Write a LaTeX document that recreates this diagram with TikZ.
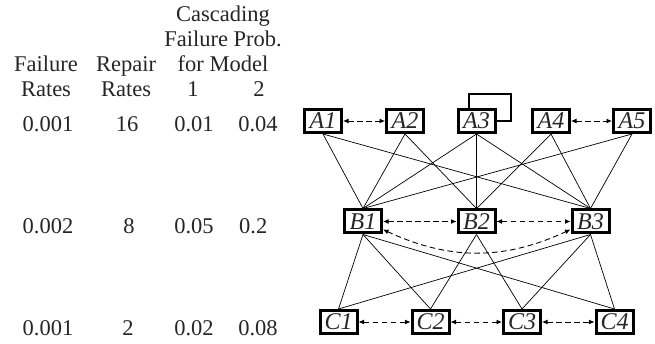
\documentclass[tikz,border=0pt]{standalone}
\usepackage{fontspec}
\setmainfont{Liberation Serif}
\usetikzlibrary{arrows.meta}
\begin{document}
\begin{tikzpicture}[x=1pt,y=-1pt,
  every node/.style={font=\fontsize{22.5}{25.2}\selectfont, inner sep=0pt, text=black!85},
  unit/.style={draw=black, line width=3pt, minimum width=37pt, minimum height=23pt,
    font=\fontsize{24}{26}\selectfont\itshape, fill=white},
  cell/.style={anchor=base},
  link/.style={line width=0.7pt},
  dep/.style={line width=0.9pt, dash pattern=on 5.5pt off 3.5pt,
    {Latex[length=5.5pt,width=5pt]}-{Latex[length=5.5pt,width=5pt]}}]
\useasboundingbox (0,0) rectangle (655,344);

% table of rates (multi-line cells sit on the baseline of their last line)
\node[cell, align=center] (hfail) at (46,97) {Failure\\Rates};
\node[cell, align=center] (hrep) at (126,97) {Repair\\Rates};
\node[cell, align=center] (hcasc) at (223,72) {Cascading\\Failure Prob.\\for Model};
\node[cell] (hm1) at (193,97) {1};
\node[cell] (hm2) at (259,97) {2};

\node[cell] (f1) at (48,132) {0.001};
\node[cell] (r1) at (127,132) {16};
\node[cell] (p11) at (194,132) {0.01};
\node[cell] (p21) at (258,132) {0.04};

\node[cell] (f2) at (48,234) {0.002};
\node[cell] (r2) at (129,234) {8};
\node[cell] (p12) at (194,234) {0.05};
\node[cell, anchor=base west] (p22) at (239,234) {0.2};

\node[cell] (f3) at (48,335) {0.001};
\node[cell] (r3) at (128,335) {2};
\node[cell] (p13) at (194,335) {0.02};
\node[cell] (p23) at (258,335) {0.08};

% component boxes
\node[unit] (A1) at (323,121) {A1};
\node[unit] (A2) at (405,121) {A2};
\node[unit] (A3) at (476.5,121) {A3};
\node[unit] (A4) at (551,121) {A4};
\node[unit] (A5) at (632,121) {A5};

\node[unit] (B1) at (363,221.5) {B1};
\node[unit] (B2) at (476.5,221.5) {B2};
\node[unit] (B3) at (590.5,221.5) {B3};

\node[unit] (C1) at (338.5,322) {C1};
\node[unit] (C2) at (430.5,322) {C2};
\node[unit] (C3) at (522,322) {C3};
\node[unit] (C4) at (614.5,322) {C4};

% A3 self dependence
\draw[line width=2pt] ([xshift=-7.5pt]A3.north) |- ([xshift=14pt,yshift=14pt]A3.north east) |- (A3.east);

% links between layers
\foreach \a/\b in {A1/B1, A1/B3, A2/B1, A2/B2, A3/B1, A3/B2, A3/B3, A4/B2, A4/B3, A5/B1, A5/B3}
  \draw[link] (\a.south) -- (\b.north);
\foreach \a/\b in {B1/C1, B1/C2, B1/C4, B2/C2, B2/C3, B3/C1, B3/C3, B3/C4}
  \draw[link] (\a.south) -- (\b.north);

% dependencies within a layer
\draw[dep] (A1.east) -- (A2.west);
\draw[dep] (A4.east) -- (A5.west);
\draw[dep] (B1.east) -- (B2.west);
\draw[dep] (B2.east) -- (B3.west);
\draw[dep] ([yshift=-8pt]B1.east) to[bend right=25] ([yshift=-8pt]B3.west);
\draw[dep] (C1.east) -- (C2.west);
\draw[dep] (C2.east) -- (C3.west);
\draw[dep] (C3.east) -- (C4.west);
\end{tikzpicture}
\end{document}
